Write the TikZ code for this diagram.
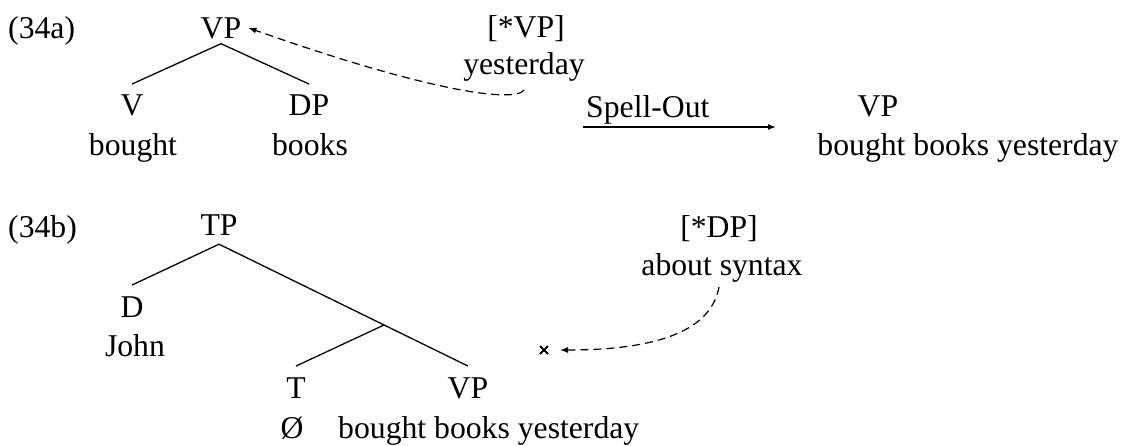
\documentclass[tikz,border=0pt]{standalone}
\usepackage{fontspec}
\setmainfont{Liberation Serif}
\usetikzlibrary{arrows.meta,calc}
\begin{document}
\begin{tikzpicture}[x=1pt,y=-1pt,
  lbl/.style={inner sep=0pt,anchor=base,font=\fontsize{31.7}{38}\selectfont},
  branch/.style={line width=1.3pt},
  tip/.style={-{Latex[length=8pt,width=6pt]}},
  move/.style={line width=1.2pt,dash pattern=on 8pt off 5pt,tip},
  gapmark/.style={line width=2pt}]
\useasboundingbox (0,0) rectangle (1130,445);

% (34a): the VP before Spell-Out, with the adjunct waiting to attach
\node[lbl,anchor=base west] (ex-a) at (8,38) {(34a)};
\node[lbl] (vp-a) at (221,38) {VP};
\node[lbl] (v-a) at (132,115) {V};
\node[lbl] (bought-a) at (133,155) {bought};
\node[lbl] (dp-a) at (309,115) {DP};
\node[lbl] (books-a) at (310,155) {books};
\node[lbl] (cat-a) at (526,37) {[*VP]};
\node[lbl] (adj-a) at (524,74) {yesterday};

\draw[branch] ([yshift=-5pt]vp-a.south) -- ([yshift=10pt]v-a.north);
\draw[branch] ([yshift=-5pt]vp-a.south) -- ([yshift=10pt]dp-a.north);
\draw[move] ([yshift=-9pt]adj-a.south) .. controls (515,103) and (430,92) .. ([xshift=7pt]vp-a.east);

% Spell-Out step and its output
\coordinate (so-start) at (583,127);
\coordinate (so-end) at (776,127);
\draw[branch,tip] (so-start) -- (so-end);
\node[lbl,anchor=base west] (spell) at (586,117) {Spell-Out};
\node[lbl] (vp-out) at (878,116) {VP};
\node[lbl] (out) at (968,155) {bought books yesterday};

% (34b): the TP, with the adjunct that cannot attach
\node[lbl,anchor=base west] (ex-b) at (8,237) {(34b)};
\node[lbl] (tp) at (219,235) {TP};
\node[lbl] (d) at (132,317) {D};
\node[lbl] (john) at (135,356) {John};
\node[lbl] (t) at (296,398) {T};
\node[lbl] (vp-b) at (468,398) {VP};
\node[lbl] (null) at (292,438) {Ø};
\node[lbl,anchor=base west] (vp-b-words) at (338,438) {bought books yesterday};
\node[lbl] (cat-b) at (719,237) {[*DP]};
\node[lbl] (adj-b) at (722,275) {about syntax};

\coordinate (tp-apex) at ([yshift=-9pt]tp.south);
\coordinate (vp-b-top) at ([yshift=11pt]vp-b.north);
\coordinate (tbar) at ($(tp-apex)!0.663!(vp-b-top)$);
\draw[branch] (tp-apex) -- ([yshift=11pt]d.north);
\draw[branch] (tp-apex) -- (vp-b-top);
\draw[branch] (tbar) -- ([yshift=11pt]t.north);

\coordinate (gap) at (544,350);
\draw[gapmark] ([shift={(-4,-4)}]gap) -- ([shift={(4,4)}]gap);
\draw[gapmark] ([shift={(-4,4)}]gap) -- ([shift={(4,-4)}]gap);
\draw[move] ([xshift=-3pt,yshift=-5pt]adj-b.south) .. controls (712,325) and (670,350) .. ([xshift=16pt]gap);
\end{tikzpicture}
\end{document}
